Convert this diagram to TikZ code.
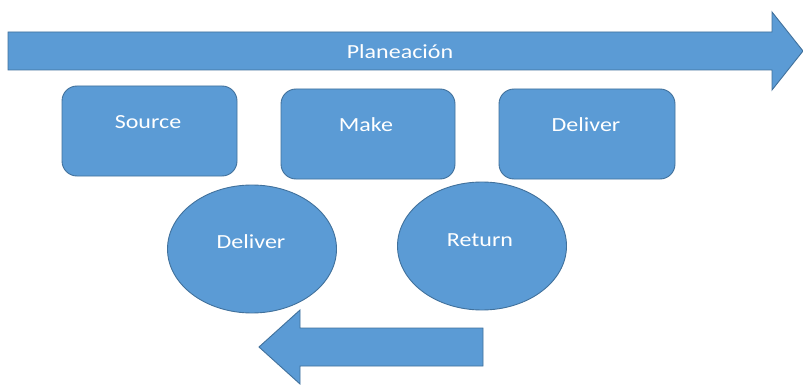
\documentclass[tikz,border=0pt]{standalone}
\usepackage{fontspec}
\setmainfont{Carlito}
\usetikzlibrary{shapes.geometric}
\definecolor{fillblue}{HTML}{5B9BD5}
\definecolor{lineblue}{HTML}{41719C}
\tikzset{
  shapebox/.style={draw=lineblue, fill=fillblue, line width=0.9pt},
  rbox/.style={shapebox, rounded corners=15pt},
  txt/.style={text=white, font=\fontsize{20}{22}\selectfont, inner sep=0pt, xscale=1.2},
}
\begin{document}
\begin{tikzpicture}[x=1pt,y=-1pt]
\fill[white] (0,0) rectangle (803,385);
\useasboundingbox (0,0) rectangle (803,385);
% top arrow
\draw[shapebox] (8,32) -- (772,32) -- (772,12) -- (803,51) -- (772,90) -- (772,70) -- (8,70) -- cycle;
\node[txt] (plan) at (400,52) {Planeación};
% boxes
\draw[rbox] (62,86) rectangle (237,176);
\node[txt] (source) at (148,122) {Source};
\draw[rbox] (281,89) rectangle (455,179);
\node[txt] (make) at (366,125) {Make};
\draw[rbox] (499,89) rectangle (675,179);
\node[txt] (deliver1) at (586,125) {Deliver};
% ellipses
\node[shapebox, ellipse, minimum width=169pt, minimum height=128pt, inner sep=0pt] (e1) at (252,249) {};
\node[txt] (deliver2) at (251,242) {Deliver};
\node[shapebox, ellipse, minimum width=169pt, minimum height=128pt, inner sep=0pt] (e2) at (482,246) {};
\node[txt] (return) at (480,240) {Return};
% bottom arrow
\draw[shapebox] (483,328) -- (300,328) -- (300,310) -- (259,347) -- (300,384) -- (300,366) -- (483,366) -- cycle;
\end{tikzpicture}
\end{document}
